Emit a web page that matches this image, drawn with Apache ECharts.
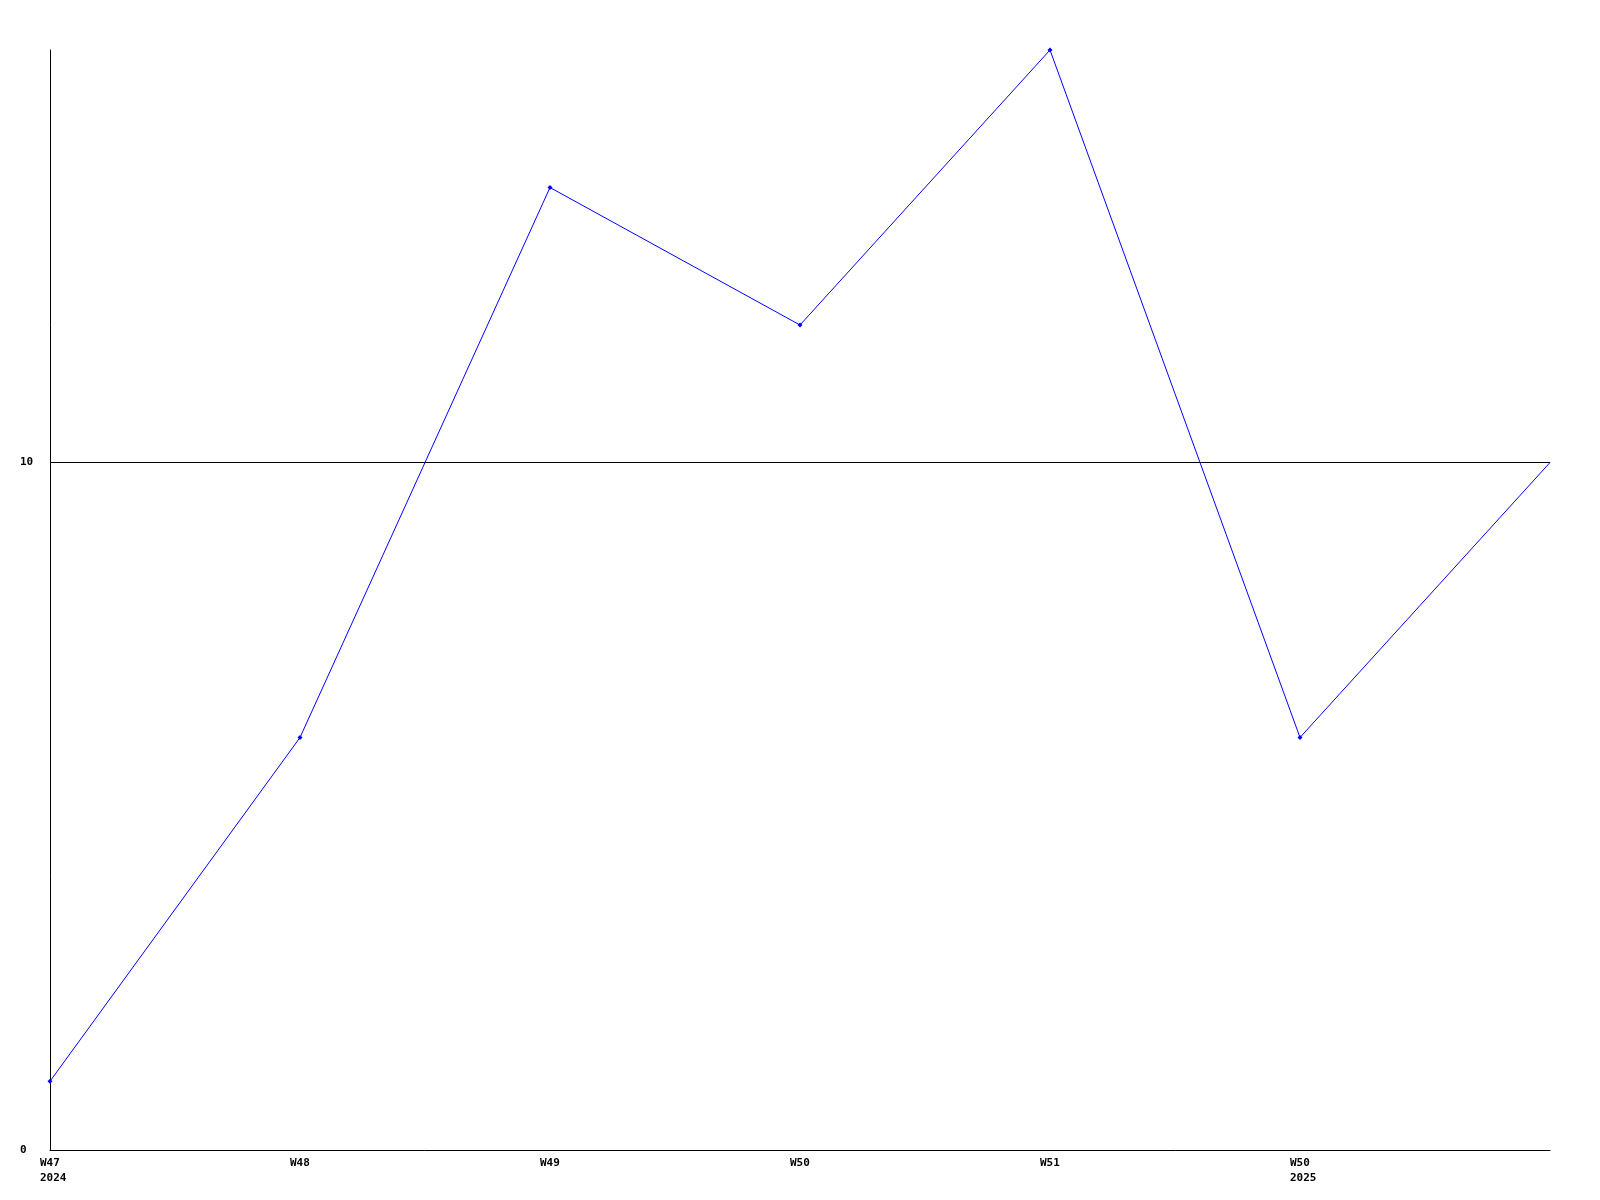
<!DOCTYPE html>
<html>
<head>
<meta charset="utf-8">
<script src="https://cdn.jsdelivr.net/npm/echarts@6/dist/echarts.min.js"></script>
<style>html,body{margin:0;padding:0;background:#fff}#c{width:1600px;height:1200px}</style>
</head>
<body>
<div id="c"></div>
<script>
const categories = ["W47\n2024", "W48", "W49", "W50", "W51", "W50\n2025", ""];
const values = [1, 6, 14, 12, 16, 6, 10];
const yTicks = [0, 10];

const chart = echarts.init(document.getElementById('c'), null, {renderer: 'canvas'});
const font = {fontFamily: 'DejaVu Sans Mono', fontWeight: 'bold', fontSize: 11, color: '#000'};
chart.setOption({
  animation: false,
  backgroundColor: '#fff',
  grid: {left: 50, right: 50, top: 50, bottom: 50, containLabel: false},
  xAxis: {
    type: 'category',
    data: categories,
    boundaryGap: false,
    axisLine: {lineStyle: {color: '#000', width: 1}},
    axisTick: {show: false},
    splitLine: {show: false},
    axisLabel: Object.assign({
      margin: 6, lineHeight: 15, interval: 0, width: 20, overflow: 'none', align: 'center',
      formatter: v => v.split('\n').map(s => '{a|' + s + '}').join('\n'),
      rich: {a: Object.assign({align: 'left', lineHeight: 15}, font)}
    }, font)
  },
  yAxis: {
    type: 'value',
    min: 0,
    max: 16,
    interval: 10,
    axisLine: {show: true, lineStyle: {color: '#000', width: 1}},
    axisTick: {show: false},
    splitLine: {show: true, showMinLine: false, showMaxLine: false, lineStyle: {color: '#000', width: 1}},
    axisLabel: Object.assign({margin: 30, align: 'left', showMaxLabel: false,
      formatter: v => yTicks.indexOf(v) >= 0 ? String(v) : ''}, font)
  },
  series: [{
    type: 'line',
    data: values,
    symbol: (v, p) => p.dataIndex === values.length - 1 ? 'none' : 'diamond',
    symbolSize: 5,
    lineStyle: {color: '#0000ff', width: 1},
    itemStyle: {color: '#0000ff'}
  }]
});
</script>
</body>
</html>
